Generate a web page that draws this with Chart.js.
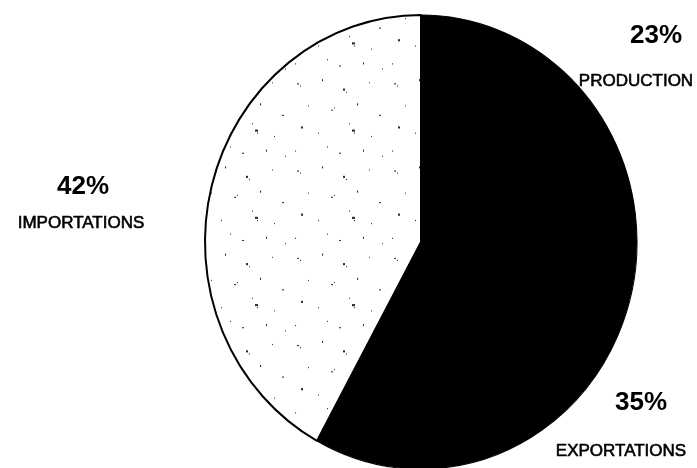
<!DOCTYPE html>
<html>
<head>
<meta charset="utf-8">
<script src="https://cdn.jsdelivr.net/npm/chart.js@4/dist/chart.umd.min.js"></script>
<style>
  html, body { margin: 0; padding: 0; background: #fff; }
  #wrap { width: 697px; height: 468px; position: relative; }
</style>
</head>
<body>
<div id="wrap"><canvas id="c" width="697" height="468"></canvas></div>
<script>
// Shares of the total, in percent
const categories = ['PRODUCTION', 'EXPORTATIONS', 'IMPORTATIONS'];
const shares = [23, 35, 42];
const percentLabels = ['23%', '35%', '42%'];

// Label anchor points (text centres) for each category
const labelPos = [
  { pctX: 656, pctY: 36, nameX: 636, nameY: 81 },
  { pctX: 641, pctY: 403, nameX: 621, nameY: 451 },
  { pctX: 83,  pctY: 187, nameX: 81,  nameY: 223 }
];

// Sparse, uneven speckle texture for the light slice
function speckle() {
  const t = document.createElement('canvas');
  t.width = 97; t.height = 83;
  const g = t.getContext('2d');
  g.fillStyle = '#ffffff';
  g.fillRect(0, 0, t.width, t.height);
  g.fillStyle = '#2a2a2a';
  const dots = [
    [6,8,2,1],[9,10,1,1],[31,4,1,2],[52,13,2,2],[55,16,1,1],[78,7,1,1],
    [17,29,1,1],[40,33,2,1],[43,31,1,1],[66,27,1,2],[88,38,2,1],
    [10,49,2,2],[27,55,1,1],[58,46,1,1],[61,52,3,2],[63,55,1,1],[80,58,1,1],
    [36,68,1,1],[48,74,2,1],[72,71,1,2],[91,77,1,1],[4,72,1,1]
  ];
  dots.forEach(d => g.fillRect(d[0], d[1], d[2], d[3]));
  return g.createPattern(t, 'repeat');
}

const yStretch = 1.051;

// Stretch the pie vertically into an ellipse around its centre
const ellipsePlugin = {
  id: 'ellipse',
  beforeDatasetsDraw(chart) {
    const arc = chart.getDatasetMeta(0).data[0];
    const ctx = chart.ctx;
    ctx.save();
    ctx.translate(arc.x, arc.y);
    ctx.scale(1, yStretch);
    ctx.translate(-arc.x, -arc.y);
  },
  afterDatasetsDraw(chart) {
    chart.ctx.restore();
  }
};

// Percent and category text beside the pie
const labelPlugin = {
  id: 'sliceLabels',
  afterDraw(chart) {
    const ctx = chart.ctx;
    ctx.save();
    ctx.fillStyle = '#000';
    ctx.strokeStyle = '#000';
    ctx.textAlign = 'center';
    ctx.textBaseline = 'middle';
    categories.forEach((name, i) => {
      const p = labelPos[i];
      ctx.font = 'bold 26px "Liberation Sans", Arial, sans-serif';
      ctx.fillText(percentLabels[i], p.pctX, p.pctY);
      ctx.font = '17px "Liberation Sans", Arial, sans-serif';
      ctx.lineWidth = 0.6;
      ctx.fillText(name, p.nameX, p.nameY);
      ctx.strokeText(name, p.nameX, p.nameY);
    });
    ctx.restore();
  }
};

new Chart(document.getElementById('c'), {
  type: 'pie',
  data: {
    labels: categories,
    datasets: [{
      data: shares,
      backgroundColor: ['#000', '#000', speckle()],
      borderColor: '#000',
      borderWidth: [1, 1, 2]
    }]
  },
  options: {
    responsive: false,
    animation: false,
    layout: { padding: { left: 204, right: 59, top: 25, bottom: 9 } },
    plugins: {
      legend: { display: false },
      tooltip: { enabled: false }
    }
  },
  plugins: [ellipsePlugin, labelPlugin]
});
</script>
</body>
</html>
